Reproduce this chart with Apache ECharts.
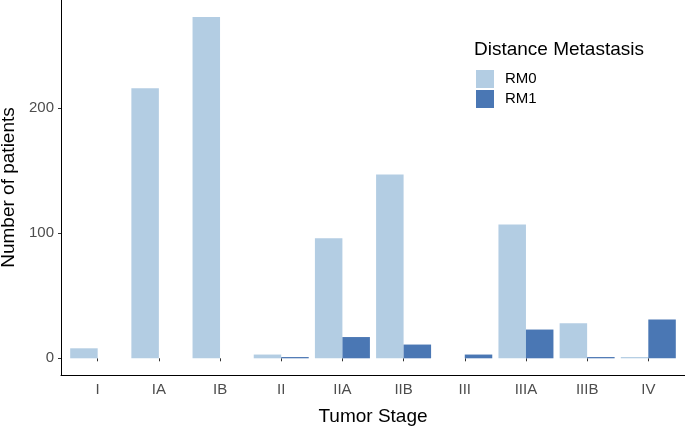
<!DOCTYPE html>
<html>
<head>
<meta charset="utf-8">
<script src="https://cdn.jsdelivr.net/npm/echarts@6/dist/echarts.min.js"></script>
<style>
  html, body { margin: 0; padding: 0; background: #fff; }
  #chart { width: 685px; height: 426px; }
</style>
</head>
<body>
<div id="chart"></div>
<script>
// tumor stages on the x axis
const stages = ['I', 'IA', 'IB', 'II', 'IIA', 'IIB', 'III', 'IIIA', 'IIIB', 'IV'];
// patient counts per stage
const rm0 = [8, 216, 273, 3, 96, 147, 0, 107, 28, 1];
const rm1 = [0, 0, 0, 1, 17, 11, 3, 23, 1, 31];
const yTicks = [0, 100, 200];

const FONT = 'Liberation Sans, Arial, Helvetica, sans-serif';
const COL_RM0 = '#b3cde3';
const COL_RM1 = '#4a77b4';

const chart = echarts.init(document.getElementById('chart'), null, { renderer: 'canvas' });

const option = {
    animation: false,
    backgroundColor: '#fff',
    textStyle: { fontFamily: FONT },
    title: {
        text: 'Distance Metastasis',
        left: 474,
        top: 40,
        padding: 0,
        textStyle: { fontFamily: FONT, fontSize: 19, fontWeight: 'normal', color: '#000' },
    },
    legend: {
        orient: 'vertical',
        left: 476,
        top: 70,
        padding: 0,
        itemWidth: 18,
        itemHeight: 18,
        itemGap: 2,
        icon: 'rect',
        textStyle: { fontFamily: FONT, fontSize: 15, color: '#000', padding: [0, 0, 0, 6] },
        data: ['RM0', 'RM1'],
    },
    grid: [
        // bars
        { left: 67.1, right: 6.1, top: 0, bottom: 67.7, outerBoundsMode: 'none', containLabel: false },
        // panel frame incl. ggplot expansion
        { left: 61, right: 0, top: 0, bottom: 51, outerBoundsMode: 'none', containLabel: false },
    ],
    xAxis: [
        {
            type: 'category',
            gridIndex: 0,
            data: stages,
            offset: 16.7,
            axisLine: { show: false },
            axisTick: { show: true, alignWithLabel: true, length: 3, lineStyle: { color: '#333' } },
            axisLabel: { margin: 7, fontFamily: FONT, fontSize: 15, color: '#4d4d4d' },
            splitLine: { show: false },
        },
        {
            type: 'value',
            gridIndex: 1,
            min: 0,
            max: 1,
            axisLine: { show: true, onZero: false, lineStyle: { color: '#000', width: 1 } },
            axisTick: { show: false },
            axisLabel: { show: false },
            splitLine: { show: false },
            name: 'Tumor Stage',
            nameLocation: 'middle',
            nameGap: 32,
            nameTextStyle: { fontFamily: FONT, fontSize: 19, color: '#000' },
        },
    ],
    yAxis: [
        {
            type: 'value',
            gridIndex: 0,
            min: 0,
            max: 286.65,
            interval: 100,
            offset: 6.1,
            axisLine: { show: false },
            axisTick: { show: true, length: 3, lineStyle: { color: '#333' } },
            axisLabel: {
                margin: 7,
                fontFamily: FONT,
                fontSize: 15,
                color: '#4d4d4d',
                showMaxLabel: false,
                formatter: v => (yTicks.includes(v) ? String(v) : ''),
            },
            splitLine: { show: false },
        },
        {
            type: 'value',
            gridIndex: 1,
            min: 0,
            max: 1,
            axisLine: { show: true, onZero: false, lineStyle: { color: '#000', width: 1 } },
            axisTick: { show: false },
            axisLabel: { show: false },
            splitLine: { show: false },
            name: 'Number of patients',
            nameLocation: 'middle',
            nameRotate: 90,
            nameGap: 43,
            nameTextStyle: { fontFamily: FONT, fontSize: 19, color: '#000' },
        },
    ],
    series: [
        {
            name: 'RM0',
            type: 'bar',
            xAxisIndex: 0,
            yAxisIndex: 0,
            data: rm0,
            barWidth: 27.5,
            barGap: '0%',
            itemStyle: { color: COL_RM0 },
        },
        {
            name: 'RM1',
            type: 'bar',
            xAxisIndex: 0,
            yAxisIndex: 0,
            data: rm1,
            barWidth: 27.5,
            barGap: '0%',
            itemStyle: { color: COL_RM1 },
        },
    ],
};

chart.setOption(option);
</script>
</body>
</html>
